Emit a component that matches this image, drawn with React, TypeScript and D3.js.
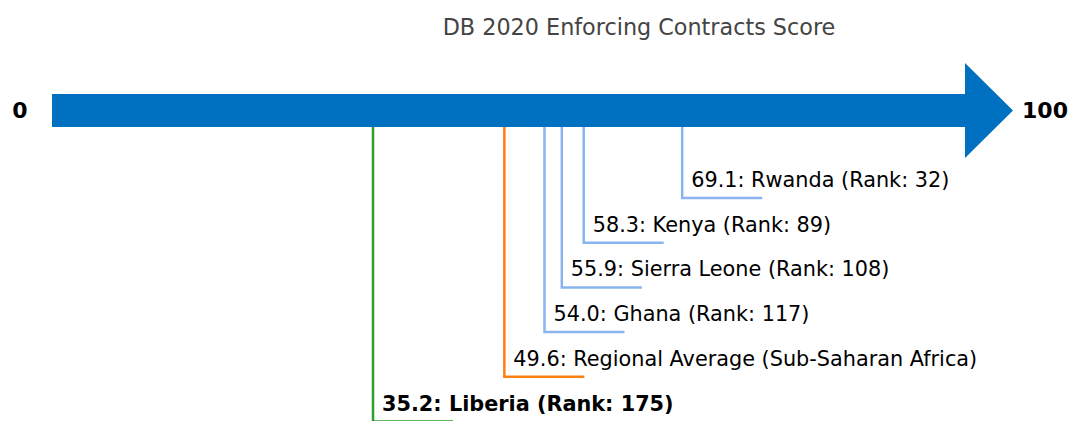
import React from "react";
import * as d3 from "d3";

const names = ["Liberia (Rank: 175)", "Regional Average (Sub-Saharan Africa)", "Ghana (Rank: 117)", "Sierra Leone (Rank: 108)", "Kenya (Rank: 89)", "Rwanda (Rank: 32)"];
const scores = [35.2, 49.6, 54.0, 55.9, 58.3, 69.1];
const kinds = ["focus", "regional", "peer", "peer", "peer", "peer"];
const title = "DB 2020 Enforcing Contracts Score";
const axisMin = 0;
const axisMax = 100;

const colorFor: Record<string, string> = {
  focus: "#2ca02c",
  regional: "#ff7f0e",
  peer: "#8ab4ee",
};

export default function App() {
  const W = 1072, H = 421;
  const x = d3.scaleLinear().domain([axisMin, axisMax]).range([52, 964]);
  const barTop = 94, barBot = 127, barMid = (barTop + barBot) / 2;
  const headTop = 63, headBot = 158, tipX = 1013;
  const levels = d3.scaleLinear().domain([0, 5]).range([421.5, 198]);
  const arrowPath = d3.path();
  arrowPath.moveTo(x(axisMin), barTop);
  arrowPath.lineTo(x(axisMax) + 1, barTop);
  arrowPath.lineTo(x(axisMax) + 1, headTop);
  arrowPath.lineTo(tipX, barMid);
  arrowPath.lineTo(x(axisMax) + 1, headBot);
  arrowPath.lineTo(x(axisMax) + 1, barBot);
  arrowPath.lineTo(x(axisMin), barBot);
  arrowPath.closePath();
  const font = "DejaVu Sans, sans-serif";
  return (
    <svg width={W} height={H} style={{ position: "absolute", left: 0, top: 0, background: "#fff" }} fontFamily={font}>
      <text x={639} y={35} textAnchor="middle" fontSize={22.3} fill="#444">{title}</text>
      <path d={arrowPath.toString()} fill="#0070c0" />
      <text x={20} y={118} textAnchor="middle" fontSize={22} fontWeight="bold" fill="#000">{String(axisMin)}</text>
      <text x={1045} y={118} textAnchor="middle" fontSize={22} fontWeight="bold" fill="#000">{String(axisMax)}</text>
      {scores.map((s, i) => {
        const xx = x(s);
        const yy = levels(i);
        const c = colorFor[kinds[i]];
        const focus = kinds[i] === "focus";
        return (
          <g key={i}>
            <path d={`M${xx},${barBot} V${yy} H${xx + 80}`} fill="none" stroke={c} strokeWidth={2.5} />
            <text x={xx + 9} y={yy - 11} fontSize={20.8} fontWeight={focus ? "bold" : "normal"} fill="#000">
              {`${s.toFixed(1)}: ${names[i]}`}
            </text>
          </g>
        );
      })}
    </svg>
  );
}
